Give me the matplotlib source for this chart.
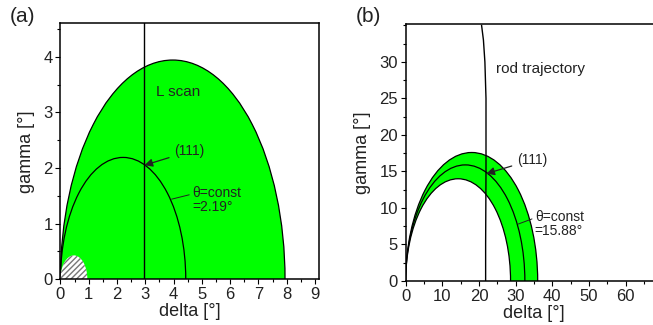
import numpy as np
import matplotlib
matplotlib.use("Agg")
import matplotlib.pyplot as plt
from matplotlib.patches import Ellipse
from matplotlib.ticker import MultipleLocator

plt.rcParams['font.family'] = ['Liberation Sans', 'DejaVu Sans']
plt.rcParams['hatch.linewidth'] = 1.0

# panel (a): theta = 2.19 deg
a_band_width = [7.94, 4.43]     # delta where curve meets gamma=0 (outer, theta=const)
a_band_height = [3.94, 2.19]    # peak gamma
a_lscan = 2.97
a_shadow_width = 0.95
a_shadow_height = 0.43
a_peak = (2.97, 2.05)

# panel (b): theta = 15.88 deg
b_band_width = [36.0, 32.5, 28.6]   # outer, theta=const, inner
b_band_height = [17.6, 15.9, 14.0]
rod_gamma = [0, 5, 10, 15, 20, 25, 30, 33, 35]
rod_delta = [21.8, 21.8, 21.85, 21.9, 21.9, 21.9, 21.6, 21.2, 20.7]
b_peak = (22.0, 14.7)

green = '#00ff00'
txt = '#222222'

fig = plt.figure(figsize=(6.53, 3.25), dpi=100)
ax1 = fig.add_axes([0.0926, 0.1406, 0.3963, 0.7877])
ax2 = fig.add_axes([0.6213, 0.1354, 0.393, 0.7908])

def style(ax):
    ax.tick_params(which='both', direction='out', top=False, right=False,
                   labelsize=12, colors='black', labelcolor=txt, width=0.8, pad=2)
    ax.tick_params(which='major', length=3.5)
    ax.tick_params(which='minor', length=2)
    for s in ax.spines.values():
        s.set_linewidth(1.1)

# ---- (a)
w, h = a_band_width[0], a_band_height[0]
ax1.add_patch(Ellipse((w / 2, 0), w, 2 * h, facecolor=green, edgecolor='black', lw=0.9, zorder=1))
w, h = a_band_width[1], a_band_height[1]
ax1.add_patch(Ellipse((w / 2, 0), w, 2 * h, facecolor='none', edgecolor='black', lw=0.9, zorder=2))
ax1.add_patch(Ellipse((a_shadow_width / 2, 0), a_shadow_width, 2 * a_shadow_height,
                      facecolor='white', edgecolor='#777777', lw=0, hatch='//////', zorder=2))
ax1.axvline(a_lscan, color='black', lw=1.0, zorder=3)
ax1.text(3.38, 3.36, 'L scan', fontsize=11, color=txt, va='center')
ax1.annotate('(111)', xy=a_peak, xytext=(4.03, 2.3), fontsize=10, color=txt, va='center',
             arrowprops=dict(arrowstyle='-|>', color='#222222', lw=0.9, mutation_scale=12,
                             shrinkA=2, shrinkB=0))
ax1.annotate('θ=const\n=2.19°', xy=(3.93, 1.44), xytext=(4.65, 1.42), fontsize=10,
             color=txt, va='center', linespacing=1.0,
             arrowprops=dict(arrowstyle='-', color='#222222', lw=0.7, shrinkA=0, shrinkB=0,
                             relpos=(0, 0.72)))
ax1.set_xlim(0, 9.15)
ax1.set_ylim(0, 4.6)
ax1.xaxis.set_major_locator(MultipleLocator(1))
ax1.xaxis.set_minor_locator(MultipleLocator(0.5))
ax1.yaxis.set_major_locator(MultipleLocator(1))
ax1.yaxis.set_minor_locator(MultipleLocator(0.5))
ax1.set_xlabel('delta [°]', fontsize=13, color=txt, labelpad=1)
ax1.set_ylabel('gamma [°]', fontsize=13, color=txt, labelpad=6)
style(ax1)

# ---- (b)
w, h = b_band_width[0], b_band_height[0]
ax2.add_patch(Ellipse((w / 2, 0), w, 2 * h, facecolor=green, edgecolor='black', lw=0.9, zorder=1))
w, h = b_band_width[2], b_band_height[2]
ax2.add_patch(Ellipse((w / 2, 0), w, 2 * h, facecolor='white', edgecolor='black', lw=0.9, zorder=1))
w, h = b_band_width[1], b_band_height[1]
ax2.add_patch(Ellipse((w / 2, 0), w, 2 * h, facecolor='none', edgecolor='black', lw=0.9, zorder=2))
ax2.plot(rod_delta, rod_gamma, color='black', lw=1.0, zorder=3)
ax2.text(24.5, 29, 'rod trajectory', fontsize=11, color=txt, va='center')
ax2.annotate('(111)', xy=b_peak, xytext=(30.4, 16.6), fontsize=10, color=txt, va='center',
             arrowprops=dict(arrowstyle='-|>', color='#222222', lw=0.9, mutation_scale=12,
                             shrinkA=2, shrinkB=0))
ax2.annotate('θ=const\n=15.88°', xy=(30.7, 7.8), xytext=(35.2, 7.8), fontsize=10,
             color=txt, va='center', linespacing=1.0,
             arrowprops=dict(arrowstyle='-', color='#222222', lw=0.7, shrinkA=0, shrinkB=0,
                             relpos=(0, 0.72)))
ax2.set_xlim(0, 70)
ax2.set_ylim(0, 35.2)
ax2.set_xticks([0, 10, 20, 30, 40, 50, 60])
ax2.set_yticks([0, 5, 10, 15, 20, 25, 30])
ax2.xaxis.set_minor_locator(MultipleLocator(5))
ax2.yaxis.set_minor_locator(MultipleLocator(2.5))
ax2.set_xlabel('delta [°]', fontsize=13, color=txt, labelpad=1)
ax2.set_ylabel('gamma [°]', fontsize=13, color=txt, labelpad=6)
style(ax2)

fig.text(0.015, 0.95, '(a)', fontsize=15, color=txt, va='center')
fig.text(0.545, 0.95, '(b)', fontsize=15, color=txt, va='center')

fig.savefig('out.png', dpi=100)
